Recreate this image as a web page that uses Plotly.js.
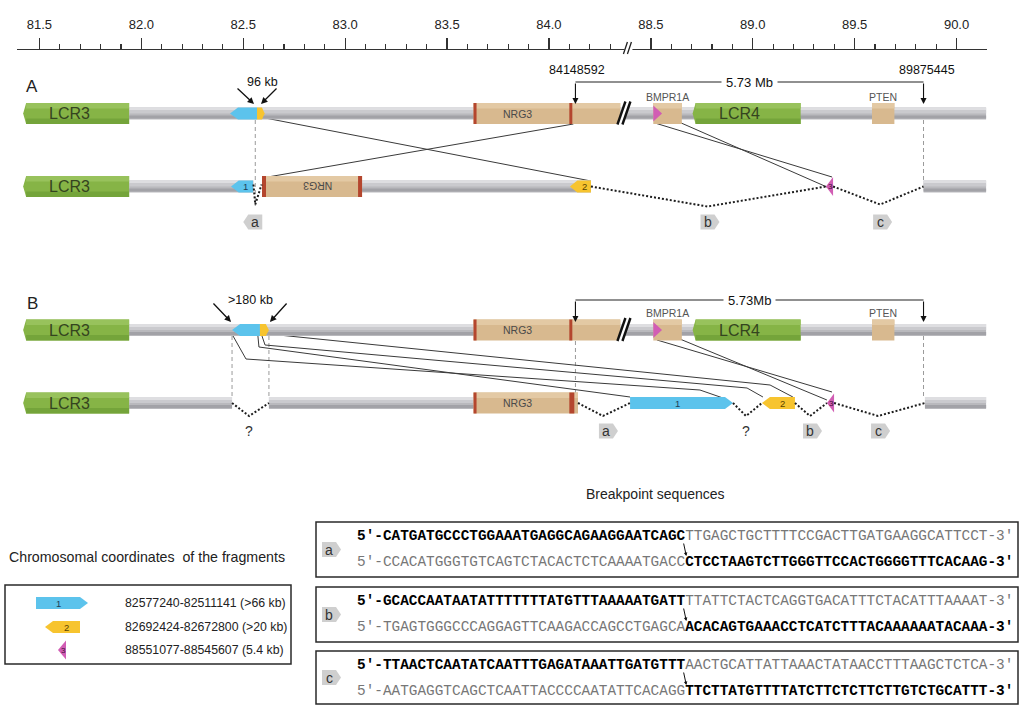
<!DOCTYPE html>
<html><head><meta charset="utf-8">
<script src="https://cdn.plot.ly/plotly-3.0.1.min.js"></script>
<style>html,body{margin:0;padding:0;background:#fff}#chart{width:1020px;height:705px}</style>
</head><body><div id="chart"></div>
<script>
// ======================= DATA (Mb, read on the figure's own scale) =======================
const tickValuesMb = [81.5, 82.0, 82.5, 83.0, 83.5, 84.0, 88.5, 89.0, 89.5, 90.0];
const tickLabels   = ['81.5','82.0','82.5','83.0','83.5','84.0','88.5','89.0','89.5','90.0'];
const minorTicksMb = [81.6,81.7,81.8,81.9,82.1,82.2,82.3,82.4,82.6,82.7,82.8,82.9,83.1,83.2,83.3,83.4,
                      83.6,83.7,83.8,83.9,84.1,84.2,84.3,88.6,88.7,88.8,88.9,89.1,89.2,89.3,89.4,
                      89.6,89.7,89.8,89.9];
const axisExtentMb = [81.39, 90.15];
const axisBreakMb  = 84.39;          // 84.4 - 88.4 Mb is not drawn

const lcrNames  = ['LCR3', 'LCR4'];
const lcrStart  = [81.42, 88.705];
const lcrEnd    = [81.94, 89.235];
const geneNames = ['NRG3', 'BMPR1A', 'PTEN'];
const geneStart = [83.63, 88.512, 89.585];
const geneEnd   = [84.35, 88.652, 89.695];
const nrg3ExonMb = [83.63, 84.10];
const chromEndMb = 90.145;

const breakpointLabels = ['84148592', '89875445'];
const breakpointMb     = [84.13, 89.838];
const deletionLabels   = ['5.73 Mb', '5.73Mb'];

const fragIds    = ['1', '2', '3'];
const fragCoords = ['82577240-82511141 (>66 kb)', '82692424-82672800 (>20 kb)', '88551077-88545607 (5.4 kb)'];

// ---- Panel A ----
const aDupLabel      = '96 kb';
const aRefFragStart  = [82.435, 82.5675, 88.512];
const aRefFragEnd    = [82.5675, 82.605, 88.555];
const aDerFragStart  = [82.44, 84.103, 89.359];
const aDerFragEnd    = [82.548, 84.206, 89.394];
const aDerFragDir    = ['left', 'left', 'left'];
const aNrg3Inverted  = [82.592, 83.083];
const aJunctions     = [[82.550, 82.559, 82.590], [84.206, 88.778, 89.359], [89.394, 89.625, 89.838]];
const aJunctionTags  = ['a', 'b', 'c'];
const aLinkX         = [[82.582, 84.206], [84.12, 82.592], [88.5596, 89.364], [88.520, 89.389]];

// ---- Panel B ----
const bDupLabel      = '>180 kb';
const bRefFragStart  = [82.445, 82.582, 88.512];
const bRefFragEnd    = [82.582, 82.626, 88.555];
const bDerFragStart  = [88.398, 89.045, 89.364];
const bDerFragEnd    = [88.903, 89.207, 89.399];
const bDerFragDir    = ['right', 'left', 'left'];
const bNrg3          = [83.63, 84.1425];
const bJunctions     = [[82.445, 82.529, 82.626], [84.1425, 84.265, 88.398], [88.903, 88.967, 89.045],
                        [89.207, 89.281, 89.364], [89.399, 89.615, 89.845]];
const bJunctionTags  = ['?', 'a', '?', 'b', 'c'];
const bLinkX         = [[82.450, 82.5135, 88.741, 88.854], [82.572, 82.577, 88.398],
                        [82.592, 82.607, 88.972, 89.050], [82.626, 89.085, 89.197],
                        [88.5596, 89.364], [88.530, 89.389]];

// ---- Breakpoint sequences ----
const seqTags   = ['a', 'b', 'c'];
const seqTopBold    = ["5'-CATGATGCCCTGGAAATGAGGCAGAAGGAATCAGC", "5'-GCACCAATAATATTTTTTTATGTTTAAAAATGATT", "5'-TTAACTCAATATCAATTTGAGATAAATTGATGTTT"];
const seqTopPlain   = ["TTGAGCTGCTTTTCCGACTTGATGAAGGCATTCCT-3'", "TTATTCTACTCAGGTGACATTTCTACATTTAAAAT-3'", "AACTGCATTATTAAACTATAACCTTTAAGCTCTCA-3'"];
const seqBotPlain   = ["5'-CCACATGGGTGTCAGTCTACACTCTCAAAATGACC", "5'-TGAGTGGGCCCAGGAGTTCAAGACCAGCCTGAGCA", "5'-AATGAGGTCAGCTCAATTACCCCAATATTCACAGG"];
const seqBotBold    = ["CTCCTAAGTCTTGGGTTCCACTGGGGTTTCACAAG-3'", "ACACAGTGAAACCTCATCTTTACAAAAAATACAAA-3'", "TTCTTATGTTTTATCTTCTCTTCTTGTCTGCATTT-3'"];

// ======================= DRAWING =======================
const FONT = '"Liberation Sans", Arial, Helvetica, sans-serif';
const MONO = '"Liberation Mono", "Courier New", monospace';
const W = 1020, H = 705;
const X0 = 81.30643, X1 = 86.31134;      // plotted x range
const MBPX = (X1 - X0) / W;
const BREAK_SKIP = 4.0;
function ax(mb) { return mb > axisBreakMb + 1 ? mb - BREAK_SKIP : mb; }
function pxX(n) { return n * MBPX; }
function P(px) { return X0 + px * MBPX; }   // page pixel -> plotted x (decorations only)

const C = { lcr:'#86b446', lcrTop:'#98c25c', lcrBot:'#74a43a', lcrText:'#34441f',
            gene:'#d8b98f', geneTop:'#e3c9a4', exon:'#b4462e', geneText:'#4a4a4a',
            frag:['#5cc3ec', '#f7c42f', '#d15db4'], fragText:['#1d3f57', '#5a4300', '#3d0f35'],
            tag:'#cfcfcf', link:'#3a3a3a' };

const shapes = [], annos = [];
function rectP(x0, x1, y0, y1, fill) { shapes.push({type:'rect', xref:'x', yref:'y', x0, x1, y0, y1, fillcolor:fill, line:{width:0}, layer:'above'}); }
function boxP(x0, x1, y0, y1, color, w) { shapes.push({type:'rect', xref:'x', yref:'y', x0, x1, y0, y1, fillcolor:'rgba(0,0,0,0)', line:{color, width:w}, layer:'above'}); }
function lineP(x0, y0, x1, y1, color, w, dash) { shapes.push({type:'line', xref:'x', yref:'y', x0, y0, x1, y1, line:{color, width:w, dash:dash || 'solid'}, layer:'above'}); }
function addPath(pts, o) {
  const d = pts.map((p, i) => (i ? 'L' : 'M') + p[0].toFixed(6) + ',' + p[1].toFixed(2)).join(' ') + (o.close === false ? '' : ' Z');
  shapes.push({type:'path', xref:'x', yref:'y', path:d, fillcolor:o.fill || 'rgba(0,0,0,0)',
               line:{color:o.line || 'rgba(0,0,0,0)', width:o.lw || 0, dash:o.dash || 'solid'}, layer:'above'});
}
function txt(x, y, text, size, color, extra) {
  annos.push(Object.assign({xref:'x', yref:'y', x, y, text, showarrow:false, font:{family:FONT, size, color},
                            xanchor:'center', yanchor:'middle'}, extra || {}));
}
function arrow(x, y, dx, dy, w, size) {
  annos.push({xref:'x', yref:'y', x, y, ax:dx, ay:dy, axref:'pixel', ayref:'pixel', text:'', showarrow:true,
              arrowhead:2, arrowsize:size || 1, arrowwidth:w || 1.2, arrowcolor:'#111', standoff:0});
}

function bar(m0, m1, yc) {
  const a = ax(m0), b = ax(m1);
  rectP(a, b, yc - 6, yc + 6, '#b9b9bd');
  rectP(a, b, yc - 6, yc - 3, '#dedee1');
  rectP(a, b, yc - 3, yc, '#cacace');
  rectP(a, b, yc + 2, yc + 5, '#a2a2a7');
}
function lcrBlock(i, yc) {
  const a = ax(lcrStart[i]), b = ax(lcrEnd[i]), t = pxX(3);
  addPath([[a + t, yc - 10.5], [b, yc - 10.5], [b, yc + 10.5], [a + t, yc + 10.5], [a, yc]], {fill:C.lcr});
  rectP(a + t, b, yc - 10.5, yc - 5, C.lcrTop);
  rectP(a + t, b, yc + 5, yc + 10.5, C.lcrBot);
  txt((a + b) / 2 - pxX(7), yc, lcrNames[i], 16, C.lcrText);
}
function geneBox(m0, m1, yc) {
  rectP(ax(m0), ax(m1), yc - 10.5, yc + 10.5, C.gene);
  rectP(ax(m0), ax(m1), yc - 10.5, yc - 5, C.geneTop);
}
function exon(xPlot, yc, w) { rectP(xPlot, xPlot + pxX(w || 3), yc - 10.5, yc + 10.5, C.exon); }
// fragment glyph from plotted x coordinates
function fragGlyph(i, a, b, yc, dir, label) {
  let pts, cx;
  if (i === 2) {
    const hh = label ? 9.5 : 8;
    pts = dir === 'left' ? [[b, yc - hh], [a, yc], [b, yc + hh]] : [[a, yc - hh], [b, yc], [a, yc + hh]];
    cx = (a + 2 * b) / 3;
  } else {
    const hh = 6, tip = Math.min(pxX(8), (b - a) * 0.35);
    if (dir === 'left') { pts = [[a, yc], [a + tip, yc - hh], [b, yc - hh], [b, yc + hh], [a + tip, yc + hh]]; cx = (a + tip + b) / 2; }
    else { pts = [[a, yc - hh], [b - tip, yc - hh], [b, yc], [b - tip, yc + hh], [a, yc + hh]]; cx = (a + b - tip) / 2; }
  }
  addPath(pts, {fill:C.frag[i]});
  if (label) txt(cx, yc, label, i === 2 ? 8 : 9.5, C.fragText[i]);
}
function frag(i, m0, m1, yc, dir, label) { fragGlyph(i, ax(m0), ax(m1), yc, dir, label); }
function junction(j, yc, depth) {
  addPath([[ax(j[0]), yc], [ax(j[1]), yc + depth], [ax(j[2]), yc]], {close:false, line:'#1c1c1c', lw:2, dash:'2px,2px'});
}
function tagGlyph(xc, yc, dir, letter) {
  if (letter === '?') { txt(xc, yc, '?', 14, '#333'); return; }
  const h = 7.5, bw = 7, pt = 5;
  const pts = dir === 'right'
    ? [[xc - pxX(bw), yc - h], [xc + pxX(bw), yc - h], [xc + pxX(bw + pt), yc], [xc + pxX(bw), yc + h], [xc - pxX(bw), yc + h]]
    : [[xc + pxX(bw), yc - h], [xc - pxX(bw), yc - h], [xc - pxX(bw + pt), yc], [xc - pxX(bw), yc + h], [xc + pxX(bw), yc + h]];
  addPath(pts, {fill:C.tag});
  txt(xc, yc, letter, 14, '#333');
}
function rowBreak(yc) {
  const bx = ax(axisBreakMb) - pxX(4);
  addPath([[bx - pxX(7), yc + 11], [bx + pxX(1), yc - 12], [bx + pxX(6), yc - 12], [bx - pxX(2), yc + 11]], {fill:'#ffffff'});
  lineP(bx - pxX(7), yc + 11, bx + pxX(1), yc - 12, '#111', 2.4);
  lineP(bx - pxX(2), yc + 11, bx + pxX(6), yc - 12, '#111', 2.4);
}
function refRow(yc, fs, fe) {
  bar(lcrEnd[0], chromEndMb, yc);
  lcrBlock(0, yc); lcrBlock(1, yc);
  for (let i = 0; i < geneNames.length; i++) geneBox(geneStart[i], geneEnd[i], yc);
  nrg3ExonMb.forEach(m => exon(ax(m), yc));
  txt((ax(nrg3ExonMb[0]) + ax(nrg3ExonMb[1])) / 2 - pxX(4), yc, geneNames[0], 10.5, C.geneText);
  for (let i = 1; i < geneNames.length; i++) txt((ax(geneStart[i]) + ax(geneEnd[i])) / 2, yc - 17, geneNames[i], 10.5, '#555');
  frag(0, fs[0], fe[0], yc, 'left');
  frag(1, fs[1], fe[1], yc, 'right');
  frag(2, fs[2], fe[2], yc, 'right');
  rowBreak(yc);
}
function deletionBracket(yLine, yTip, label, withNumbers) {
  const a = ax(breakpointMb[0]), b = ax(breakpointMb[1]);
  lineP(a, yLine, b, yLine, '#222', 1.1);
  arrow(a, yTip, 0, yLine - yTip, 1.1, 1.1);
  arrow(b, yTip, 0, yLine - yTip, 1.1, 1.1);
  txt((a + b) / 2, yLine, label, 13, '#111', {bgcolor:'#ffffff', borderpad:4});
  if (withNumbers) {
    txt(a + pxX(2), yLine - 12, breakpointLabels[0], 12.5, '#111');
    txt(b + pxX(3), yLine - 12, breakpointLabels[1], 12.5, '#111');
  }
}
function links(xs, ys) {
  xs.forEach((xr, k) => addPath(xr.map((m, i) => [ax(m), ys[k][i]]), {close:false, line:C.link, lw:1}));
}
function dashV(m, y0, y1) { lineP(ax(m), y0, ax(m), y1, '#9a9a9a', 1, '4px,3px'); }

// ---------- Panel A ----------
const yA1 = 113.5, yA2 = 186.5, yAtag = 222;
dashV(aJunctions[0][1], 120, 206);
dashV(breakpointMb[1], 120, 181);
links(aLinkX, [[117, 181], [124, 178], [115, 187], [123, 177]]);
refRow(yA1, aRefFragStart, aRefFragEnd);
// derivative
bar(lcrEnd[0], aJunctions[0][0], yA2);
lcrBlock(0, yA2);
bar(aNrg3Inverted[1], aDerFragEnd[1], yA2);
bar(aJunctions[2][2], chromEndMb, yA2);
geneBox(aNrg3Inverted[0], aNrg3Inverted[1], yA2);
exon(ax(aNrg3Inverted[0]), yA2, 4);
exon(ax(aNrg3Inverted[1]) - pxX(4), yA2, 4);
{
  const lab = (ax(nrg3ExonMb[0]) + ax(nrg3ExonMb[1])) / 2 - pxX(4) - ax(geneStart[0]);
  txt(ax(aNrg3Inverted[1]) - lab, yA2, geneNames[0], 10.5, C.geneText, {textangle:180});
}
for (let i = 0; i < 3; i++) frag(i, aDerFragStart[i], aDerFragEnd[i], yA2, aDerFragDir[i], fragIds[i]);
junction(aJunctions[0], yA2 - 2, 20);
junction(aJunctions[1], yA2, 20);
junction(aJunctions[2], yA2, 18);
tagGlyph(ax(aJunctions[0][1]), yAtag, 'left', aJunctionTags[0]);
tagGlyph(ax(aJunctions[1][1]), yAtag, 'right', aJunctionTags[1]);
tagGlyph(ax(aJunctions[2][1]), yAtag, 'right', aJunctionTags[2]);
txt(P(32), 86, 'A', 17, '#222');
txt(ax(aRefFragEnd[0]) + pxX(5), 82, aDupLabel, 12.5, '#111');
arrow(ax(aRefFragEnd[0]) - pxX(3), 104, -18, -17, 1.3, 1);
arrow(ax(aRefFragEnd[0]) + pxX(4), 104, 17, -17, 1.3, 1);
deletionBracket(82, 104, deletionLabels[0], true);

// ---------- Panel B ----------
const yB1 = 330, yB2 = 403, yBtag = 431;
dashV(bJunctions[0][0], 336, 398);
dashV(bJunctions[0][2], 336, 398);
dashV(breakpointMb[0], 341, 393);
dashV(breakpointMb[1], 336, 397);
links(bLinkX, [[336, 359, 390, 398], [336, 347, 397], [336, 345, 388, 397], [334, 385, 397], [332, 400], [340, 392]]);
refRow(yB1, bRefFragStart, bRefFragEnd);
bar(lcrEnd[0], bJunctions[0][0], yB2);
lcrBlock(0, yB2);
bar(bJunctions[0][2], bNrg3[0], yB2);
bar(bJunctions[4][2], chromEndMb, yB2);
geneBox(bNrg3[0], bNrg3[1], yB2);
nrg3ExonMb.forEach((m, i) => exon(ax(m), yB2, i ? 5 : 3));
txt((ax(nrg3ExonMb[0]) + ax(nrg3ExonMb[1])) / 2 - pxX(4), yB2, geneNames[0], 10.5, C.geneText);
for (let i = 0; i < 3; i++) frag(i, bDerFragStart[i], bDerFragEnd[i], yB2, bDerFragDir[i], fragIds[i]);
bJunctions.forEach((j, k) => junction(j, yB2, 13));
bJunctions.forEach((j, k) => tagGlyph(ax(j[1]) + (bJunctionTags[k] === 'a' ? pxX(3) : 0), yBtag, 'right', bJunctionTags[k]));
txt(P(32), 303, 'B', 17, '#222');
txt((ax(bRefFragStart[0]) + ax(bRefFragEnd[1])) / 2, 300, bDupLabel, 12.5, '#111');
arrow(ax(bRefFragStart[0]) - pxX(1), 322, -19, -20, 1.3, 1);
arrow(ax(bRefFragEnd[1]) + pxX(1), 322, 18, -20, 1.3, 1);
deletionBracket(300, 322, deletionLabels[1], false);

// ---------- Fragment coordinate key ----------
txt(P(147), 557, 'Chromosomal coordinates\u00a0 of the fragments', 14.2, '#222');
boxP(P(5), P(291), 585, 664, '#2a2a2a', 1.5);
const keyY = [603, 627, 650];
const keyX = [[36, 88, 'right'], [45, 80, 'left'], [58, 66, 'left']];
for (let i = 0; i < 3; i++) {
  fragGlyph(i, P(keyX[i][0]), P(keyX[i][1]), keyY[i], keyX[i][2], fragIds[i]);
  txt(P(123), keyY[i], fragCoords[i], 12.3, '#222', {xanchor:'left'});
}

// ---------- Breakpoint sequences ----------
txt(P(655), 494, 'Breakpoint sequences', 14, '#222');
const boxY = [[522, 577], [587, 642], [651, 704]];
for (let i = 0; i < 3; i++) {
  const [t, b] = boxY[i];
  boxP(P(316), P(1018), t, b, '#2a2a2a', 1.5);
  const y1 = t + 14, y2 = t + 40;
  tagGlyph(P(329), (t + b) / 2, 'right', seqTags[i]);
  annos.push({xref:'x', yref:'y', x:P(355), y:y1, xanchor:'left', yanchor:'middle', showarrow:false, align:'left',
    font:{family:MONO, size:14.4, color:'#000'},
    text:'<b>' + seqTopBold[i] + '</b><span style="color:#777777">' + seqTopPlain[i] + '</span>'});
  annos.push({xref:'x', yref:'y', x:P(355), y:y2, xanchor:'left', yanchor:'middle', showarrow:false, align:'left',
    font:{family:MONO, size:14.4, color:'#000'},
    text:'<span style="color:#777777">' + seqBotPlain[i] + '</span><b>' + seqBotBold[i] + '</b>'});
  const jx = P(355 + seqTopBold[i].length * 8.64);
  arrow(jx + pxX(3), y2 - 6, -3, -14, 1, 0.7);
}

// ---------- Top axis break mark ----------
{
  const bx = ax(axisBreakMb);
  rectP(bx - pxX(4), bx + pxX(4), 45.5, 50.5, '#ffffff');
  lineP(bx - pxX(5), 54, bx - pxX(1), 42, '#222', 1.3);
  lineP(bx - pxX(1), 54, bx + pxX(3), 42, '#222', 1.3);
}

// ======================= PLOT =======================
const axD0 = (ax(axisExtentMb[0]) - X0) / (X1 - X0);
const axD1 = (ax(axisExtentMb[1]) - X0) / (X1 - X0);
const traces = [
  {x:[X0], y:[0], xaxis:'x', yaxis:'y', mode:'markers', marker:{opacity:0}, hoverinfo:'skip', showlegend:false},
  {x:tickValuesMb.map(ax), y:tickValuesMb.map(() => 0), xaxis:'x2', yaxis:'y', mode:'markers', marker:{opacity:0}, hoverinfo:'skip', showlegend:false}
];
const layout = {
  width:W, height:H, margin:{l:0, r:0, t:0, b:0}, paper_bgcolor:'#ffffff', plot_bgcolor:'rgba(0,0,0,0)', showlegend:false,
  xaxis:{range:[X0, X1], visible:false, fixedrange:true},
  yaxis:{range:[H, 0], visible:false, fixedrange:true},
  xaxis2:{domain:[axD0, axD1], range:[ax(axisExtentMb[0]), ax(axisExtentMb[1])], anchor:'free', position:1 - 48.5 / H,
    side:'top', showline:true, linecolor:'#333', linewidth:1.3, ticks:'outside', ticklen:11, tickwidth:1.3, tickcolor:'#333',
    tickmode:'array', tickvals:tickValuesMb.map(ax), ticktext:tickLabels, tickfont:{family:FONT, size:13, color:'#222'},
    ticklabelstandoff:3,
    showgrid:false, zeroline:false, fixedrange:true,
    minor:{tickmode:'array', tickvals:minorTicksMb.map(ax), ticks:'outside', ticklen:4.5, tickwidth:1.1, tickcolor:'#333', showgrid:false}},
  shapes:shapes, annotations:annos
};
Plotly.newPlot('chart', traces, layout, {displayModeBar:false, staticPlot:true});
</script></body></html>
